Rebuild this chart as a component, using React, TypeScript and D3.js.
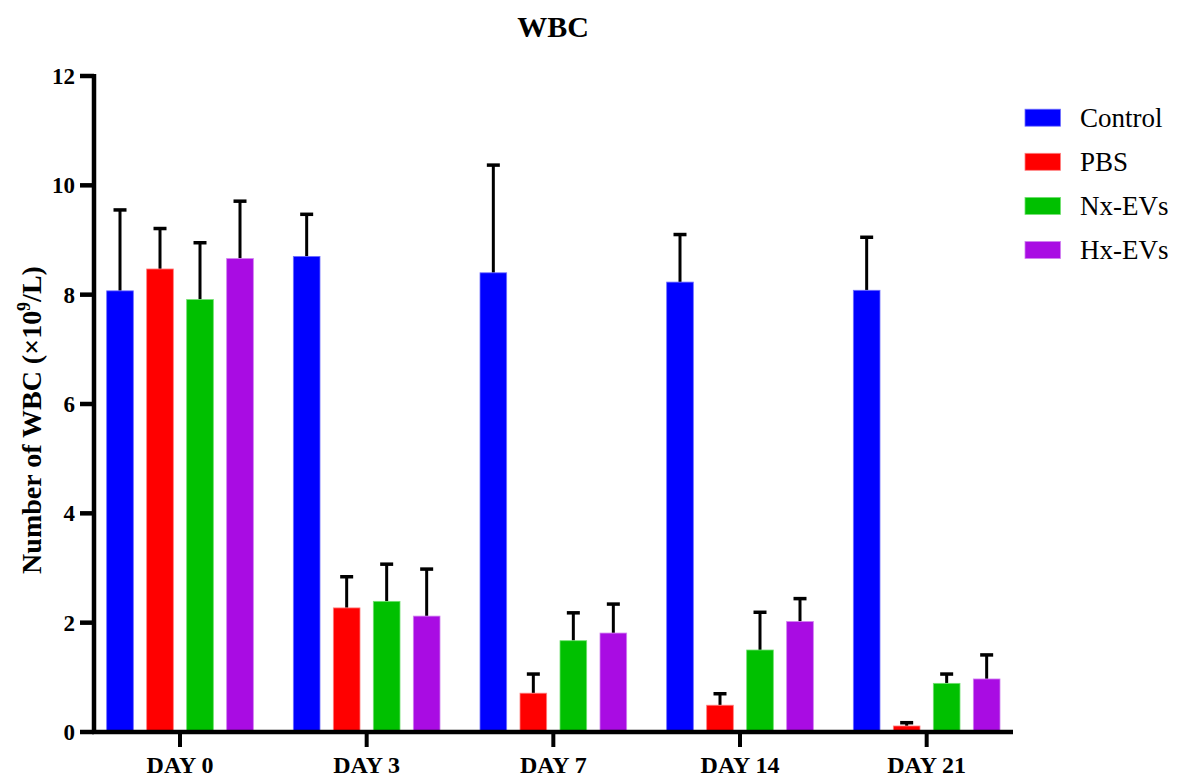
import React from "react";
import * as d3 from "d3";

const days = ["DAY 0", "DAY 3", "DAY 7", "DAY 14", "DAY 21"];
const series = ["Control", "PBS", "Nx-EVs", "Hx-EVs"];
const colors = ["#0000FF", "#FF0000", "#00C000", "#A90CE3"];
const edgeColors = ["#7070FF", "#FF8080", "#70E070", "#D080F0"];
const controlMean = [8.07, 8.70, 8.40, 8.23, 8.08];
const controlErr = [9.55, 9.47, 10.37, 9.10, 9.05];
const pbsMean = [8.47, 2.27, 0.71, 0.49, 0.11];
const pbsErr = [9.21, 2.84, 1.06, 0.70, 0.17];
const nxMean = [7.91, 2.39, 1.67, 1.50, 0.89];
const nxErr = [8.95, 3.07, 2.18, 2.19, 1.06];
const hxMean = [8.66, 2.12, 1.81, 2.02, 0.97];
const hxErr = [9.71, 2.98, 2.34, 2.44, 1.41];
const yTicks = [0, 2, 4, 6, 8, 10, 12];

const means = [controlMean, pbsMean, nxMean, hxMean];
const errs = [controlErr, pbsErr, nxErr, hxErr];

const FONT = "'Liberation Serif', 'Times New Roman', serif";

export default function App() {
  const W = 1181, H = 781;
  const y = d3.scaleLinear().domain([0, 12]).range([732, 76]);
  const x = d3.scaleBand<string>().domain(days).range([86.67, 1020]).paddingInner(0).paddingOuter(0);
  const inner = d3.scaleBand<string>().domain(series).range([-80, 80]).paddingInner(1 / 3).paddingOuter(1 / 6);
  const axisX = 94;
  const baseY = y(0);
  const capHalf = 6.5;

  return (
    <div style={{ position: "absolute", left: 0, top: 0 }}>
      <svg width={W} height={H} style={{ display: "block", background: "#fff" }}>
        <text x={553} y={37} textAnchor="middle" fontFamily={FONT} fontWeight="bold" fontSize={30}>WBC</text>

        {/* bars */}
        {days.map((d, di) => {
          const cx = (x(d) as number) + x.bandwidth() / 2;
          return series.map((s, si) => {
            const bx = cx + (inner(s) as number);
            const bw = inner.bandwidth();
            const top = y(means[si][di]);
            const et = y(errs[si][di]);
            const mx = bx + bw / 2;
            return (
              <g key={d + s}>
                <line x1={mx} x2={mx} y1={top} y2={et} stroke="#000" strokeWidth={3} />
                <line x1={mx - capHalf} x2={mx + capHalf} y1={et} y2={et} stroke="#000" strokeWidth={3.5} />
                <rect x={bx} y={top} width={bw} height={baseY - top} fill={colors[si]} stroke={edgeColors[si]} strokeWidth={0.8} />
              </g>
            );
          });
        })}

        {/* y axis */}
        <line x1={axisX} x2={axisX} y1={y(12) - 2} y2={baseY + 2} stroke="#000" strokeWidth={4.5} />
        {yTicks.map((t) => (
          <g key={t}>
            <line x1={80} x2={axisX} y1={y(t)} y2={y(t)} stroke="#000" strokeWidth={4.5} />
            <text x={75} y={y(t)} dy="0.35em" textAnchor="end" fontFamily={FONT} fontWeight="bold" fontSize={23}>{t}</text>
          </g>
        ))}

        {/* x axis */}
        <line x1={axisX - 2} x2={1013} y1={baseY} y2={baseY} stroke="#000" strokeWidth={4.5} />
        {days.map((d) => {
          const cx = (x(d) as number) + x.bandwidth() / 2;
          return (
            <g key={d}>
              <line x1={cx} x2={cx} y1={baseY} y2={baseY + 15} stroke="#000" strokeWidth={4} />
              <text x={cx} y={773} textAnchor="middle" fontFamily={FONT} fontWeight="bold" fontSize={24}>{d}</text>
            </g>
          );
        })}

        {/* y label */}
        <text transform={`translate(41, 420) rotate(-90)`} textAnchor="middle" fontFamily={FONT} fontWeight="bold" fontSize={28}>
          Number of WBC (×10<tspan dy="-11" fontSize={18}>9</tspan><tspan dy="11">/L)</tspan>
        </text>

        {/* legend */}
        {series.map((s, i) => {
          const cy = 117.7 + i * 44.1;
          return (
            <g key={s}>
              <rect x={1025} y={cy - 8.5} width={35.5} height={17} fill={colors[i]} stroke={edgeColors[i]} strokeWidth={0.8} />
              <text x={1080} y={cy + 9} fontFamily={FONT} fontSize={27}>{s}</text>
            </g>
          );
        })}
      </svg>
    </div>
  );
}
